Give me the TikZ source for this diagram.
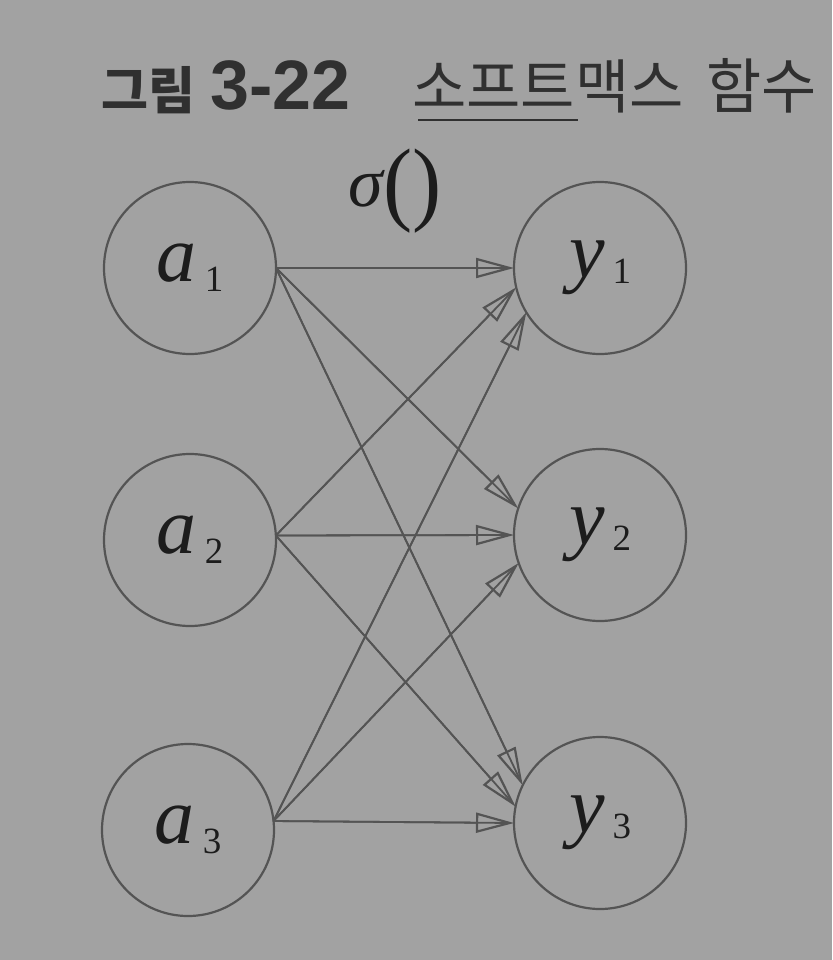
\documentclass[tikz,border=0pt]{standalone}
\usepackage{fontspec}
\usetikzlibrary{arrows.meta}
\newfontfamily\krfont{Noto Sans CJK KR}
\newfontfamily\serifface{Liberation Serif}
\newfontfamily\arialface{Liberation Sans}
\definecolor{bg}{RGB}{162,162,162}
\definecolor{ln}{RGB}{84,84,84}
\definecolor{ink}{RGB}{28,28,28}
\definecolor{ttl}{RGB}{48,48,48}
\newcommand\neurlabel[3]{{\serifface\fontsize{80}{80}\selectfont\itshape #1}\hspace{8pt}\raisebox{#3}{\serifface\fontsize{37}{37}\selectfont #2}}
\begin{document}
\begin{tikzpicture}[x=1pt,y=-1pt,
  neuron/.style={circle, draw=ln, line width=2.2pt, minimum size=172pt, inner sep=0pt, outer sep=0pt, text=ink},
  link/.style={draw=ln, line width=1.8pt,
    preaction={draw=ln, line width=1.8pt, -, shorten >=4pt},
    -{Triangle[open, length=38pt, width=20pt, line width=2.2pt]}},
  ttlbold/.style={anchor=base west, inner sep=0pt, text=ttl, font=\krfont\bfseries},
  ttlreg/.style={anchor=base west, inner sep=0pt, text=ttl, font=\krfont}
]
\fill[bg] (0,0) rectangle (832,960);
\useasboundingbox (0,0) rectangle (832,960);

% title
\node[ttlbold] (t1) at (101,110) {\fontsize{51}{51}\selectfont 그림};
\node[ttlbold, font=\arialface\bfseries] (t2) at (210,110) {\fontsize{70}{70}\selectfont 3-22};
\node[ttlreg] (t3) at (412,109) {\fontsize{59}{59}\selectfont 소프트맥스};
\node[ttlreg] (t4) at (706,109) {\fontsize{60}{60}\selectfont 함수};
\coordinate (ul1) at (418,120);
\coordinate (ul2) at (578,120);
\draw[ttl, line width=2.6pt] (ul1) -- (ul2);

% sigma label
\node[inner sep=0pt, text=ink] (sig) at (395,191)
  {\serifface\fontsize{70}{70}\selectfont\itshape σ\upshape\hspace{1pt}\raisebox{-7pt}{\scalebox{1.25}[1.33]{()}}};

% neurons
\node[neuron] (a1) at (190,268) {\neurlabel{a}{1}{-10pt}};
\node[neuron] (a2) at (190,540) {\neurlabel{a}{2}{-10pt}};
\node[neuron] (a3) at (188,830) {\neurlabel{a}{3}{-10pt}};
\node[neuron] (y1) at (600,268) {\neurlabel{y}{1}{-6pt}};
\node[neuron] (y2) at (600,535) {\neurlabel{y}{2}{-6pt}};
\node[neuron] (y3) at (600,823) {\neurlabel{y}{3}{-6pt}};

% connections
\draw[link] (a1.east) -- (y1.180);
\draw[link] (a1.east) -- (y2.162);
\draw[link] (a1.east) -- (y3.154);
\draw[link] (a2.3) -- (y1.193);
\draw[link] (a2.3) -- (y2.180);
\draw[link] (a2.3) -- (y3.169);
\draw[link] (a3.6) -- (y1.211);
\draw[link] (a3.6) -- (y2.199);
\draw[link] (a3.6) -- (y3.180);
\end{tikzpicture}
\end{document}
